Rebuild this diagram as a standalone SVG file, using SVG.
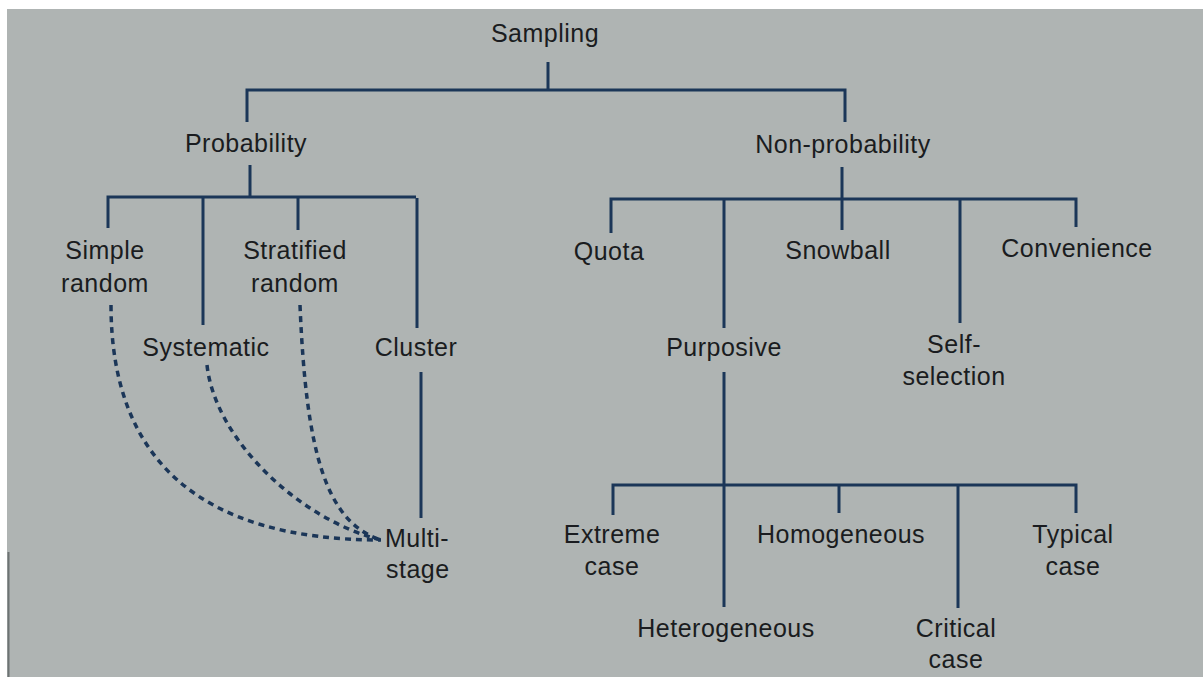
<svg xmlns="http://www.w3.org/2000/svg" width="1203" height="677" viewBox="0 0 1203 677">
<style>
.bg{fill:#afb4b3}
text{font-family:"Liberation Sans",Arial,sans-serif;font-size:25px;fill:#1a1c20;letter-spacing:0.5px}
.c{text-anchor:middle}
.l{fill:none;stroke:#1b3658;stroke-width:3;stroke-linecap:butt}
.d{fill:none;stroke:#1b3658;stroke-width:3.5;stroke-dasharray:6 5}
</style>
<rect width="1203" height="677" fill="#ffffff"/>
<rect x="7" y="9" width="1196" height="668" class="bg"/>
<line x1="8.5" y1="552" x2="8.5" y2="677" stroke="#6d7373" stroke-width="2"/>
<g id="connectors">
<path class="l" d="M548,62V90M247,122V90H845V122"/>
<path class="l" d="M250,165V198M108,228V197H416M203,197V325M298,197V230M417,198V328"/>
<path class="l" d="M842,167V230M611,233V199H1076V227M724,199V328M960,198V323"/>
<path class="l" d="M421,372V518"/>
<path class="l" d="M724,372V607M613,515V485H1076V513M839,485V513M958,485V608"/>
<path class="d" d="M111,305C111,460 200,540 381,540"/>
<path class="d" d="M207,365C215,440 300,520 381,540"/>
<path class="d" d="M300,305C306,450 325,522 381,540"/>
</g>
<g id="n-sampling"><text class="c" x="545" y="42">Sampling</text></g>
<g id="n-probability"><text class="c" x="246" y="152">Probability</text></g>
<g id="n-nonprobability"><text class="c" x="843" y="153">Non-probability</text></g>
<g id="n-simple"><text class="c" x="105" y="259">Simple</text><text class="c" x="105" y="292">random</text></g>
<g id="n-stratified"><text class="c" x="295" y="259">Stratified</text><text class="c" x="295" y="292">random</text></g>
<g id="n-systematic"><text class="c" x="206" y="356">Systematic</text></g>
<g id="n-cluster"><text class="c" x="416" y="356">Cluster</text></g>
<g id="n-multistage"><text x="385" y="547">Multi-</text><text x="386" y="578">stage</text></g>
<g id="n-quota"><text class="c" x="609" y="260">Quota</text></g>
<g id="n-snowball"><text class="c" x="838" y="259">Snowball</text></g>
<g id="n-convenience"><text class="c" x="1077" y="257">Convenience</text></g>
<g id="n-purposive"><text class="c" x="724" y="356">Purposive</text></g>
<g id="n-selfselection"><text class="c" x="954" y="353">Self-</text><text class="c" x="954" y="385">selection</text></g>
<g id="n-extreme"><text class="c" x="612" y="543">Extreme</text><text class="c" x="612" y="575">case</text></g>
<g id="n-homogeneous"><text class="c" x="841" y="543">Homogeneous</text></g>
<g id="n-typical"><text class="c" x="1073" y="543">Typical</text><text class="c" x="1073" y="575">case</text></g>
<g id="n-heterogeneous"><text class="c" x="726" y="637">Heterogeneous</text></g>
<g id="n-critical"><text class="c" x="956" y="637">Critical</text><text class="c" x="956" y="668">case</text></g>
</svg>
